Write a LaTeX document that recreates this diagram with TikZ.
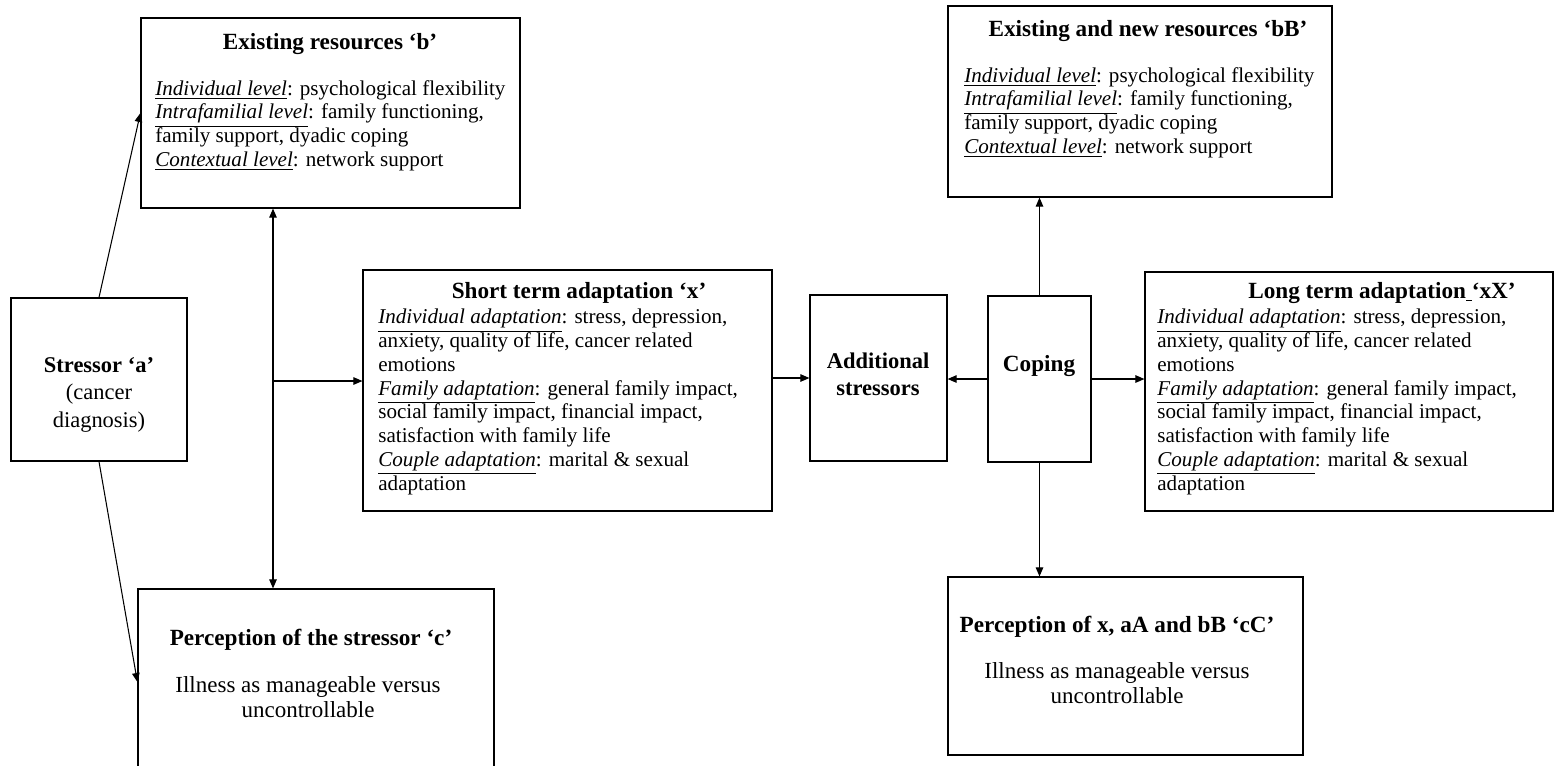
\documentclass[tikz,border=0pt]{standalone}
\usepackage{fontspec}
\setmainfont{Liberation Serif}
\usetikzlibrary{arrows.meta,calc}

\begin{document}
\begin{tikzpicture}[x=0.02cm, y=-0.02cm, font=\fontsize{12}{13.5}\selectfont,
  box/.style={draw, line width=0.7pt, inner sep=0pt},
  txt/.style={inner sep=0pt, align=left},
  ctr/.style={inner sep=0pt, align=center, font=\fontsize{13.1}{14.3}\selectfont},
  ttl/.style={inner sep=0pt, font=\fontsize{13.2}{14}\selectfont\bfseries},
  arr/.style={-{Triangle[length=1.8mm, width=1.5mm]}, line width=0.6pt}]
  \useasboundingbox (0,0) rectangle (1557,765);
  % left part
  \node[box, minimum width=3.52cm, minimum height=3.26cm] (stressor) at (99,379.5) {};
  \node[ctr, anchor=north, font=\fontsize{12.8}{15.4}\selectfont] (stressortxt) at (99,357.6) {\textbf{Stressor `a'}\\(cancer\\diagnosis)};
  \node[box, minimum width=7.58cm, minimum height=3.8cm] (res) at (330.5,113) {};
  \node[ttl, anchor=base] (restitle) at (330,49) {Existing resources `b'};
  \node[txt, anchor=north west] (restxt) at (155,80) {\underline{\textit{Individual level}}: psychological flexibility\\
    \underline{\textit{Intrafamilial level}}: family functioning,\\family support, dyadic coping\\
    \underline{\textit{Contextual level}}: network support};
  \node[box, minimum width=7.12cm, minimum height=3.72cm] (perc) at (316,682) {};
  \node[ttl, anchor=base] (perctitle) at (311,645) {Perception of the stressor `c'};
  \node[ctr, anchor=north] (perctxt) at (308,676.3) {Illness as manageable versus\\uncontrollable};
  % middle part
  \node[box, minimum width=8.18cm, minimum height=4.82cm] (shortx) at (567.5,390.5) {};
  \node[ttl, anchor=base] (shorttitle) at (579,298) {Short term adaptation `x'};
  \node[txt, anchor=north west] (shorttxt) at (378,309) {\underline{\textit{Individual adaptation}}: stress, depression,\\
    anxiety, quality of life, cancer related\\emotions\\
    \underline{\textit{Family adaptation}}: general family impact,\\social family impact, financial impact,\\satisfaction with family life\\
    \underline{\textit{Couple adaptation}}: marital \& sexual\\adaptation};
  \node[box, minimum width=2.74cm, minimum height=3.32cm] (addstr) at (878.5,378) {};
  \node[ctr, anchor=north, font=\fontsize{12.8}{15.6}\selectfont\bfseries] (addtxt) at (878,352.6) {Additional\\stressors};
  \node[box, minimum width=2.06cm, minimum height=3.32cm] (coping) at (1039.5,379) {};
  \node[ttl, anchor=base] (copingtxt) at (1039,371) {Coping};
  % right part
  \node[box, minimum width=7.68cm, minimum height=3.82cm] (resB) at (1140,101.5) {};
  \node[ttl, anchor=base] (resBtitle) at (1148,36) {Existing and new resources `bB'};
  \node[txt, anchor=north west] (resBtxt) at (964,67) {\underline{\textit{Individual level}}: psychological flexibility\\
    \underline{\textit{Intrafamilial level}}: family functioning,\\family support, dyadic coping\\
    \underline{\textit{Contextual level}}: network support};
  \node[box, minimum width=8.16cm, minimum height=4.78cm] (longx) at (1349,391.5) {};
  \node[ttl, anchor=base] (longtitle) at (1382,298) {Long term adaptation\underline{\ }`xX'};
  \node[txt, anchor=north west] (longtxt) at (1157,309) {\underline{\textit{Individual adaptation}}: stress, depression,\\
    anxiety, quality of life, cancer related\\emotions\\
    \underline{\textit{Family adaptation}}: general family impact,\\social family impact, financial impact,\\satisfaction with family life\\
    \underline{\textit{Couple adaptation}}: marital \& sexual\\adaptation};
  \node[box, minimum width=7.1cm, minimum height=3.56cm] (percC) at (1125.5,666) {};
  \node[ttl, anchor=base] (percCtitle) at (1117,632) {Perception of x, aA and bB `cC'};
  \node[ctr, anchor=north] (percCtxt) at (1117,662.3) {Illness as manageable versus\\uncontrollable};
  % connectors
  \coordinate (j) at (273,381);
  \draw[arr] (stressor.north) -- (res.west);
  \draw[arr] (stressor.south) -- (perc.west);
  \draw[arr] (j) -- (j |- res.south);
  \draw[arr] (j) -- (j |- perc.north);
  \draw[arr] (j) -- (j -| shortx.west);
  \draw[arr] (addstr.west -| shortx.east) -- (addstr.west);
  \draw[arr] (coping.west) -- (coping.west -| addstr.east);
  \draw[arr] (coping.east) -- (coping.east -| longx.west);
  \draw[arr] (coping.north) -- (coping.north |- resB.south);
  \draw[arr] (coping.south) -- (coping.south |- percC.north);
\end{tikzpicture}
\end{document}
